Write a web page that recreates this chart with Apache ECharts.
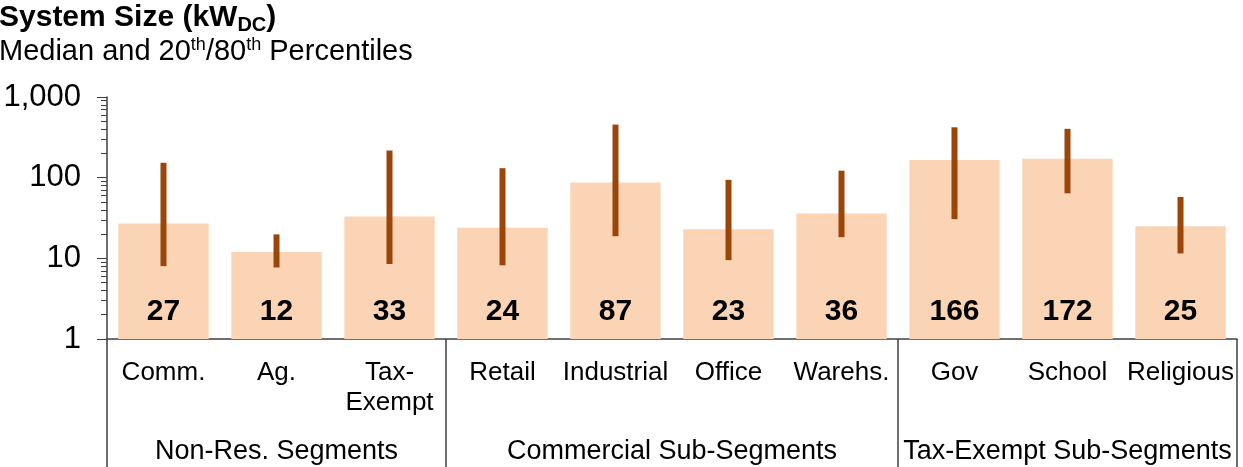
<!DOCTYPE html>
<html>
<head>
<meta charset="utf-8">
<script src="https://cdn.jsdelivr.net/npm/echarts@6/dist/echarts.min.js"></script>
<style>
    html, body { margin: 0; padding: 0; background: #fff; }
    #main { width: 1243px; height: 467px; }
</style>
</head>
<body>
<div id="main"></div>
<script>
var categories = ['Comm.', 'Ag.', 'Tax-\nExempt', 'Retail', 'Industrial', 'Office', 'Warehs.', 'Gov', 'School', 'Religious'];
var medians = [27, 12, 33, 24, 87, 23, 36, 166, 172, 25];
var p20 = [8.0, 7.7, 8.5, 8.2, 18.8, 9.5, 18.3, 30.6, 64, 11.5];
var p80 = [153, 19.8, 217, 131, 455, 94, 122, 421, 403, 57.6];
var groupNames = ['Non-Res. Segments', 'Commercial Sub-Segments', 'Tax-Exempt Sub-Segments'];
var groupBounds = [0, 3, 7, 10];
var yTicks = [1, 10, 100, 1000];

var font = 'Liberation Sans, Arial, sans-serif';

// minor ticks 2..9 in each decade
var minorTicks = [];
for (var d = 0; d < yTicks.length - 1; d++) {
    for (var m = 2; m < 10; m++) {
        minorTicks.push(yTicks[d] * m);
    }
}
var groupMids = [];
for (var g = 0; g < groupNames.length; g++) {
    groupMids.push((groupBounds[g] + groupBounds[g + 1]) / 2);
}

var errData = categories.map(function (c, i) {
    return [i, p20[i], p80[i]];
});

var myChart = echarts.init(document.getElementById('main'));

var option = {
    animation: false,
    title: {
        text: '{b|System Size (kW}{s|DC}{b|)}',
        subtext: '{n|Median and 20}{sup|th}{n|/80}{sup|th}{n| Percentiles}',
        left: -1,
        top: 1,
        padding: 0,
        itemGap: 3,
        textStyle: {
            rich: {
                b: { fontSize: 30, fontWeight: 'bold', color: '#000', fontFamily: font, lineHeight: 34 },
                s: { fontSize: 20, fontWeight: 'bold', color: '#000', fontFamily: font, lineHeight: 20, verticalAlign: 'bottom' }
            }
        },
        subtextStyle: {
            rich: {
                n: { fontSize: 29, color: '#000', fontFamily: font, lineHeight: 32 },
                sup: { fontSize: 18, color: '#000', fontFamily: font, lineHeight: 20, verticalAlign: 'top' }
            }
        }
    },
    grid: {
        left: 107,
        right: 6,
        top: 97,
        bottom: 128,
        containLabel: false,
        outerBoundsMode: 'none'
    },
    xAxis: [{
        type: 'category',
        data: categories,
        axisLine: { show: true, lineStyle: { color: '#404040', width: 1.5 } },
        axisTick: { show: false },
        axisLabel: {
            interval: 0,
            fontSize: 26,
            lineHeight: 30,
            color: '#000',
            fontFamily: font,
            margin: 19
        }
    }, {
        type: 'value',
        min: 0,
        max: 10,
        position: 'bottom',
        axisLine: { show: false },
        splitLine: { show: false },
        axisTick: {
            show: true,
            customValues: groupBounds,
            length: 130,
            lineStyle: { color: '#404040', width: 1.5 }
        },
        axisLabel: {
            customValues: groupMids,
            fontSize: 27,
            color: '#000',
            fontFamily: font,
            margin: 99,
            formatter: function (v) {
                return groupNames[groupMids.indexOf(v)];
            }
        }
    }],
    yAxis: [{
        type: 'log',
        logBase: 10,
        min: 1,
        max: 1000,
        axisLine: { show: true, lineStyle: { color: '#404040', width: 1.5 } },
        axisTick: { show: true, length: 10, lineStyle: { color: '#404040' } },
        splitLine: { show: false },
        axisLabel: {
            fontSize: 31,
            color: '#000',
            fontFamily: font,
            margin: 26,
            formatter: function (v) {
                return Number(v).toLocaleString('en-US');
            }
        }
    }, {
        type: 'log',
        logBase: 10,
        min: 1,
        max: 1000,
        position: 'left',
        axisLine: { show: false },
        splitLine: { show: false },
        axisLabel: { show: false },
        axisTick: {
            show: true,
            customValues: minorTicks,
            length: 6,
            lineStyle: { color: '#404040' }
        }
    }],
    series: [{
        type: 'bar',
        data: medians,
        z: 2,
        barCategoryGap: '20%',
        itemStyle: { color: '#FAD4B4' },
        label: {
            show: true,
            position: 'insideBottom',
            distance: 12,
            fontSize: 30,
            fontWeight: 'bold',
            color: '#000',
            fontFamily: font
        }
    }, {
        type: 'custom',
        data: errData,
        z: 4,
        encode: { x: 0, y: [1, 2] },
        renderItem: function (params, api) {
            var lo = api.coord([api.value(0), api.value(1)]);
            var hi = api.coord([api.value(0), api.value(2)]);
            return {
                type: 'line',
                shape: { x1: lo[0], y1: lo[1], x2: hi[0], y2: hi[1] },
                style: { stroke: '#9C4509', lineWidth: 6 }
            };
        }
    }]
};

myChart.setOption(option);
</script>
</body>
</html>
